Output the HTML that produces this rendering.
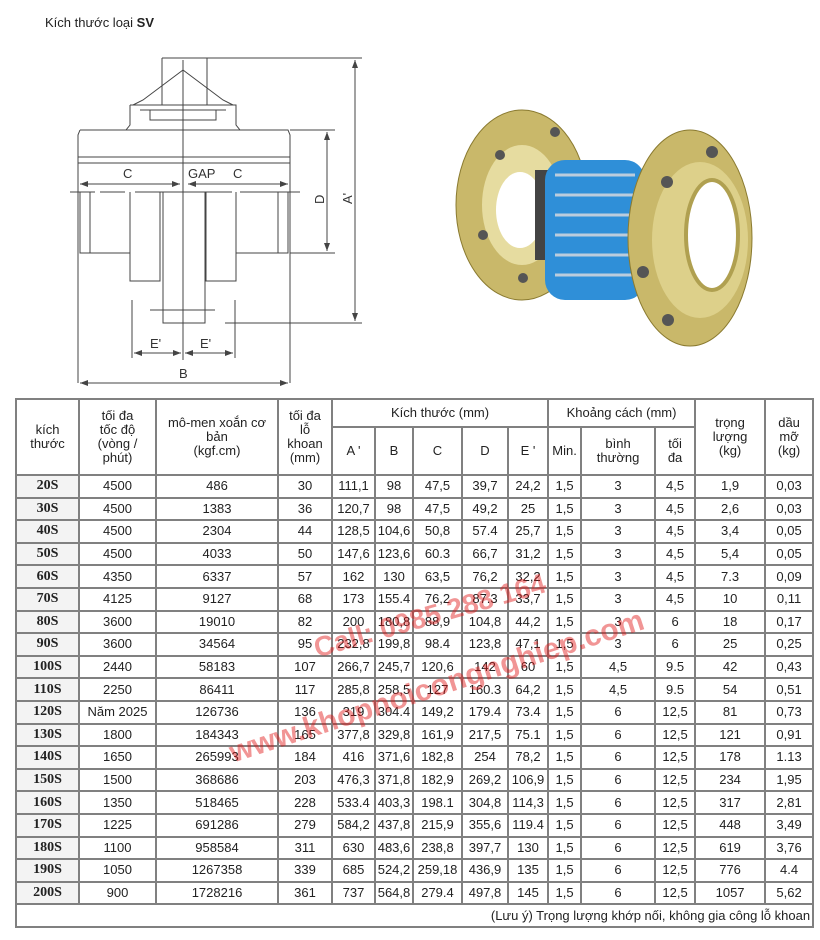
<!DOCTYPE html>
<html><head><meta charset="utf-8"><style>
body{margin:0;width:820px;height:940px;background:#fff;position:relative;overflow:hidden;font-family:"Liberation Sans","DejaVu Sans",sans-serif;color:#222}
.title{position:absolute;left:45px;top:15px;font-size:13px}
svg{position:absolute;left:0;top:0}
table{position:absolute;left:15px;top:398px;width:797px;border-collapse:collapse;table-layout:fixed;font-size:13px}
td{border:2px solid #808080;text-align:center;padding:0;line-height:14px;white-space:nowrap;overflow:hidden}
tr.r td{height:20.6px}
td.k{font-weight:bold;background:#f3f3f3;font-family:"Liberation Serif",serif;font-size:14px}
.wm{position:absolute;color:rgba(225,20,20,0.45);font-weight:bold;white-space:nowrap;font-family:"Liberation Sans",sans-serif}
</style></head><body>
<div class="title">Kích thước loại <b>SV</b></div>
<svg width="820" height="400" viewBox="0 0 820 400">
<g stroke="#444" fill="none" stroke-width="1">
<!-- top box -->
<path d="M162 58 H207 V105 M162 58 V105"/>
<path d="M183 60 L183 360"/>
<path d="M183 70 L143 100 L133 105 M183 70 L223 100 L233 105"/>
<path d="M130 105 H236 V125 L240 130 M130 105 V125 L126 130"/>
<path d="M140 110 H226 M150 110 V120 H216 V110"/>
<!-- body -->
<path d="M80 130 H288 L290 135 V383 M80 130 L78 135 V383"/>
<path d="M78 157 H290 M78 163 H290"/>
<path d="M70 192 H95 M100 192 H125 M135 192 H232 M240 192 H300"/>
<path d="M80 192 V253 H130 M90 192 V253 M288 192 V253 H236 M278 192 V253"/>
<path d="M130 192 V281 H160 V192 M236 192 V281 H206 V192"/>
<path d="M163 192 V323 H205 V192"/>
<path d="M150 310 H215"/>
<!-- dims -->
<path d="M207 58 H362 M225 323 H362 M355 60 V321"/>
<path d="M290 130 H335 M290 253 H335 M327 132 V251"/>
<path d="M80 184 H180 M188 184 H288"/>
<path d="M132 300 V358 M235 300 V358 M134 353 H181 M185 353 H233"/>
<path d="M80 383 H288"/>
</g>
<g fill="#444">
<path d="M355 60 l-3 8 h6z M355 321 l-3 -8 h6z M327 132 l-3 8 h6z M327 251 l-3 -8 h6z"/>
<path d="M80 184 l8 -3 v6z M180 184 l-8 -3 v6z M188 184 l8 -3 v6z M288 184 l-8 -3 v6z"/>
<path d="M134 353 l8 -3 v6z M181 353 l-8 -3 v6z M185 353 l8 -3 v6z M233 353 l-8 -3 v6z M80 383 l8 -3 v6z M288 383 l-8 -3 v6z"/>
</g>
<g font-family="Liberation Sans,sans-serif" font-size="13" fill="#333">
<text x="123" y="178">C</text><text x="188" y="178">GAP</text><text x="233" y="178">C</text>
<text x="150" y="348">E'</text><text x="200" y="348">E'</text><text x="179" y="378">B</text>
<text x="320" y="194" transform="rotate(-90 320 194) translate(-10 4)">D</text>
<text x="348" y="196" transform="rotate(-90 348 196) translate(-8 4)">A'</text>
</g>
<!-- coupling photo -->
<ellipse cx="522" cy="205" rx="66" ry="95" fill="#c9b86a" stroke="#8a7a30"/>
<ellipse cx="522" cy="205" rx="40" ry="60" fill="#e6dca0"/>
<ellipse cx="520" cy="210" rx="24" ry="38" fill="#fff"/>
<rect x="535" y="170" width="30" height="90" fill="#444"/>
<rect x="545" y="160" width="100" height="140" rx="20" fill="#2f8fd8"/>
<g stroke="#bcd" stroke-width="3">
<path d="M555 175 H635 M555 195 H635 M555 215 H635 M555 235 H635 M555 255 H635 M555 275 H635"/>
</g>
<ellipse cx="650" cy="230" rx="15" ry="70" fill="#555"/>
<ellipse cx="690" cy="238" rx="62" ry="108" fill="#c9b86a" stroke="#8a7a30"/>
<ellipse cx="700" cy="240" rx="48" ry="78" fill="#ddd08a"/>
<ellipse cx="712" cy="235" rx="26" ry="55" fill="#fff" stroke="#b0a050" stroke-width="4"/>
<g fill="#555"><circle cx="555" cy="132" r="5"/><circle cx="500" cy="155" r="5"/><circle cx="483" cy="235" r="5"/><circle cx="523" cy="278" r="5"/><circle cx="712" cy="152" r="6"/><circle cx="667" cy="182" r="6"/><circle cx="643" cy="272" r="6"/><circle cx="668" cy="320" r="6"/></g>
</svg>
<table>
<colgroup><col style="width:63px"><col style="width:77px"><col style="width:122px"><col style="width:54px"><col style="width:43px"><col style="width:38px"><col style="width:49px"><col style="width:46px"><col style="width:40px"><col style="width:33px"><col style="width:74px"><col style="width:40px"><col style="width:70px"><col style="width:48px"></colgroup>
<tr style="height:28px"><td rowspan="2">kích<br>thước</td><td rowspan="2">tối đa<br>tốc độ<br>(vòng /<br>phút)</td><td rowspan="2">mô-men xoắn cơ<br>bản<br>(kgf.cm)</td><td rowspan="2">tối đa<br>lỗ<br>khoan<br>(mm)</td><td colspan="5">Kích thước (mm)</td><td colspan="3">Khoảng cách (mm)</td><td rowspan="2">trọng<br>lượng<br>(kg)</td><td rowspan="2">dầu<br>mỡ<br>(kg)</td></tr>
<tr style="height:48px"><td>A '</td><td>B</td><td>C</td><td>D</td><td>E '</td><td>Min.</td><td>bình<br>thường</td><td>tối<br>đa</td></tr>
<tr class="r"><td class="k">20S</td><td>4500</td><td>486</td><td>30</td><td>111,1</td><td>98</td><td>47,5</td><td>39,7</td><td>24,2</td><td>1,5</td><td>3</td><td>4,5</td><td>1,9</td><td>0,03</td></tr>
<tr class="r"><td class="k">30S</td><td>4500</td><td>1383</td><td>36</td><td>120,7</td><td>98</td><td>47,5</td><td>49,2</td><td>25</td><td>1,5</td><td>3</td><td>4,5</td><td>2,6</td><td>0,03</td></tr>
<tr class="r"><td class="k">40S</td><td>4500</td><td>2304</td><td>44</td><td>128,5</td><td>104,6</td><td>50,8</td><td>57.4</td><td>25,7</td><td>1,5</td><td>3</td><td>4,5</td><td>3,4</td><td>0,05</td></tr>
<tr class="r"><td class="k">50S</td><td>4500</td><td>4033</td><td>50</td><td>147,6</td><td>123,6</td><td>60.3</td><td>66,7</td><td>31,2</td><td>1,5</td><td>3</td><td>4,5</td><td>5,4</td><td>0,05</td></tr>
<tr class="r"><td class="k">60S</td><td>4350</td><td>6337</td><td>57</td><td>162</td><td>130</td><td>63,5</td><td>76,2</td><td>32,2</td><td>1,5</td><td>3</td><td>4,5</td><td>7.3</td><td>0,09</td></tr>
<tr class="r"><td class="k">70S</td><td>4125</td><td>9127</td><td>68</td><td>173</td><td>155.4</td><td>76,2</td><td>87.3</td><td>33,7</td><td>1,5</td><td>3</td><td>4,5</td><td>10</td><td>0,11</td></tr>
<tr class="r"><td class="k">80S</td><td>3600</td><td>19010</td><td>82</td><td>200</td><td>180,8</td><td>88,9</td><td>104,8</td><td>44,2</td><td>1,5</td><td>3</td><td>6</td><td>18</td><td>0,17</td></tr>
<tr class="r"><td class="k">90S</td><td>3600</td><td>34564</td><td>95</td><td>232,8</td><td>199,8</td><td>98.4</td><td>123,8</td><td>47,1</td><td>1,5</td><td>3</td><td>6</td><td>25</td><td>0,25</td></tr>
<tr class="r"><td class="k">100S</td><td>2440</td><td>58183</td><td>107</td><td>266,7</td><td>245,7</td><td>120,6</td><td>142</td><td>60</td><td>1,5</td><td>4,5</td><td>9.5</td><td>42</td><td>0,43</td></tr>
<tr class="r"><td class="k">110S</td><td>2250</td><td>86411</td><td>117</td><td>285,8</td><td>258,5</td><td>127</td><td>160.3</td><td>64,2</td><td>1,5</td><td>4,5</td><td>9.5</td><td>54</td><td>0,51</td></tr>
<tr class="r"><td class="k">120S</td><td>Năm 2025</td><td>126736</td><td>136</td><td>319</td><td>304.4</td><td>149,2</td><td>179.4</td><td>73.4</td><td>1,5</td><td>6</td><td>12,5</td><td>81</td><td>0,73</td></tr>
<tr class="r"><td class="k">130S</td><td>1800</td><td>184343</td><td>165</td><td>377,8</td><td>329,8</td><td>161,9</td><td>217,5</td><td>75.1</td><td>1,5</td><td>6</td><td>12,5</td><td>121</td><td>0,91</td></tr>
<tr class="r"><td class="k">140S</td><td>1650</td><td>265993</td><td>184</td><td>416</td><td>371,6</td><td>182,8</td><td>254</td><td>78,2</td><td>1,5</td><td>6</td><td>12,5</td><td>178</td><td>1.13</td></tr>
<tr class="r"><td class="k">150S</td><td>1500</td><td>368686</td><td>203</td><td>476,3</td><td>371,8</td><td>182,9</td><td>269,2</td><td>106,9</td><td>1,5</td><td>6</td><td>12,5</td><td>234</td><td>1,95</td></tr>
<tr class="r"><td class="k">160S</td><td>1350</td><td>518465</td><td>228</td><td>533.4</td><td>403,3</td><td>198.1</td><td>304,8</td><td>114,3</td><td>1,5</td><td>6</td><td>12,5</td><td>317</td><td>2,81</td></tr>
<tr class="r"><td class="k">170S</td><td>1225</td><td>691286</td><td>279</td><td>584,2</td><td>437,8</td><td>215,9</td><td>355,6</td><td>119.4</td><td>1,5</td><td>6</td><td>12,5</td><td>448</td><td>3,49</td></tr>
<tr class="r"><td class="k">180S</td><td>1100</td><td>958584</td><td>311</td><td>630</td><td>483,6</td><td>238,8</td><td>397,7</td><td>130</td><td>1,5</td><td>6</td><td>12,5</td><td>619</td><td>3,76</td></tr>
<tr class="r"><td class="k">190S</td><td>1050</td><td>1267358</td><td>339</td><td>685</td><td>524,2</td><td>259,18</td><td>436,9</td><td>135</td><td>1,5</td><td>6</td><td>12,5</td><td>776</td><td>4.4</td></tr>
<tr class="r"><td class="k">200S</td><td>900</td><td>1728216</td><td>361</td><td>737</td><td>564,8</td><td>279.4</td><td>497,8</td><td>145</td><td>1,5</td><td>6</td><td>12,5</td><td>1057</td><td>5,62</td></tr>
<tr style="height:23px"><td colspan="14" style="text-align:right;padding-right:2px">(Lưu ý) Trọng lượng khớp nối, không gia công lỗ khoan</td></tr>
</table>
<div class="wm" style="left:310px;top:600px;font-size:28px;transform:rotate(-16deg)">Call: 0985 288 164</div>
<div class="wm" style="left:220px;top:670px;font-size:30px;transform:rotate(-18deg)">www.khopnoicongnghiep.com</div>
</body></html>
